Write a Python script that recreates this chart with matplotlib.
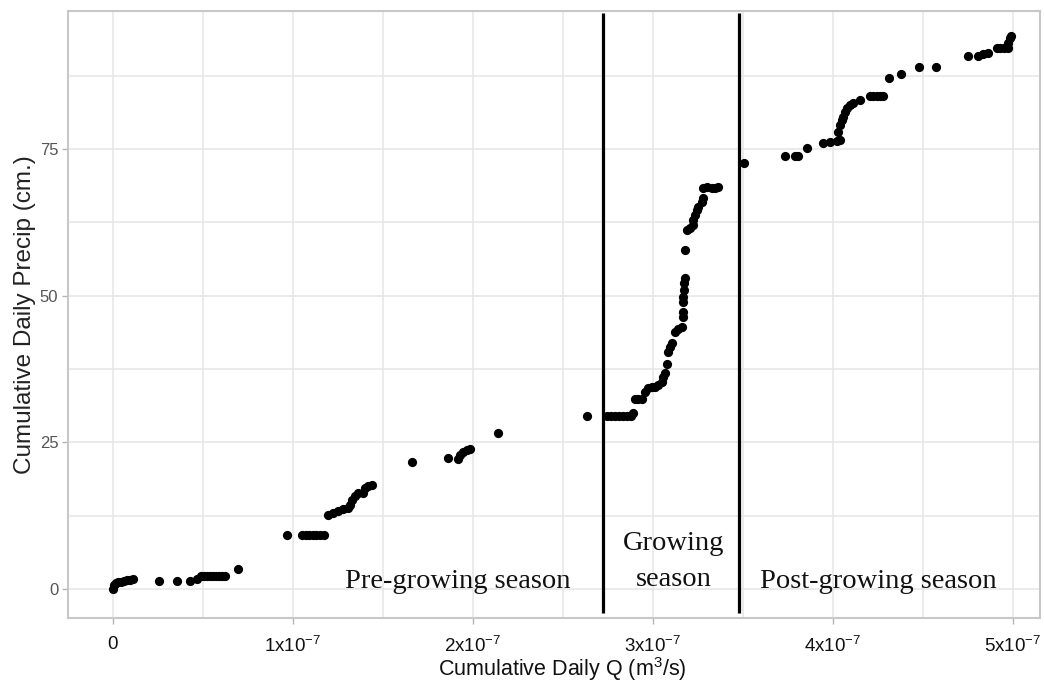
import matplotlib
matplotlib.use("Agg")
import matplotlib.pyplot as plt
from matplotlib.ticker import MultipleLocator

# cumulative daily Q, in units of 1e-7 m3/s
q_e7 = [
    0.0, 0.006, 0.017, 0.028, 0.044, 0.061, 0.078, 0.094, 0.111,
    0.256, 0.356, 0.428, 0.467,
    0.489, 0.506, 0.522, 0.539, 0.556, 0.572, 0.589, 0.606, 0.622,
    0.694, 0.967,
    1.05, 1.07, 1.09, 1.11, 1.13, 1.15, 1.17,
    1.194, 1.222, 1.25, 1.278, 1.306, 1.317, 1.328, 1.344, 1.361, 1.389,
    1.40, 1.417, 1.439,
    1.661, 1.861, 1.917, 1.928, 1.944, 1.967, 1.983, 2.139, 2.633,
    2.744, 2.767, 2.789, 2.811, 2.833, 2.856, 2.878, 2.889,
    2.90, 2.917, 2.939, 2.956, 2.972, 2.994, 3.011, 3.028, 3.05,
    3.056, 3.067, 3.078, 3.083, 3.094, 3.106, 3.122, 3.139, 3.161,
    3.167, 3.167, 3.167, 3.167, 3.172, 3.172, 3.178, 3.178,
    3.189, 3.206, 3.222, 3.222, 3.233, 3.244, 3.25, 3.272, 3.278,
    3.278, 3.30, 3.328, 3.344, 3.361,
    3.506, 3.733, 3.789, 3.806, 3.856,
    3.944, 3.983, 4.022, 4.039,
    4.028, 4.039, 4.05, 4.056, 4.067, 4.078, 4.094, 4.111, 4.15,
    4.206, 4.222, 4.244, 4.261, 4.278,
    4.311, 4.378, 4.478, 4.572,
    4.75, 4.806, 4.833, 4.861,
    4.911, 4.928, 4.95, 4.972, 4.972, 4.983, 4.989,
]

# cumulative daily precipitation (cm)
precip = [
    0.0, 0.7, 1.0, 1.2, 1.2, 1.4, 1.5, 1.5, 1.7,
    1.4, 1.4, 1.4, 1.7,
    2.3, 2.3, 2.3, 2.3, 2.3, 2.3, 2.3, 2.3, 2.3,
    3.4, 9.2,
    9.2, 9.2, 9.2, 9.2, 9.2, 9.2, 9.2,
    12.6, 12.9, 13.3, 13.6, 13.8, 14.3, 15.2, 15.9, 16.4, 16.4,
    17.2, 17.6, 17.7,
    21.7, 22.3, 22.2, 22.8, 23.3, 23.7, 23.9, 26.6, 29.5,
    29.5, 29.5, 29.5, 29.5, 29.5, 29.5, 29.5, 30.0,
    32.4, 32.4, 32.4, 33.6, 34.3, 34.5, 34.5, 34.8, 35.3,
    36.1, 36.8, 38.3, 40.4, 41.2, 41.9, 43.8, 44.3, 44.7,
    46.4, 47.2, 48.9, 49.8, 51.0, 52.2, 53.0, 57.8,
    61.2, 61.5, 62.0, 62.9, 63.7, 64.6, 65.1, 66.0, 66.6,
    68.3, 68.5, 68.4, 68.4, 68.5,
    72.6, 73.8, 73.8, 73.8, 75.2,
    76.0, 76.2, 76.4, 76.5,
    77.9, 79.1, 79.9, 80.4, 81.3, 82.0, 82.5, 82.8, 83.3,
    84.0, 84.0, 84.0, 84.0, 84.0,
    87.1, 87.8, 89.0, 89.0,
    90.9, 90.9, 91.2, 91.4,
    92.2, 92.2, 92.2, 92.2, 93.1, 93.9, 94.3,
]

season_breaks_e7 = [2.72, 3.48]
x_tick_vals = [0, 1, 2, 3, 4, 5]
x_tick_labels = ["0", "1x10$^{-7}$", "2x10$^{-7}$", "3x10$^{-7}$",
                 "4x10$^{-7}$", "5x10$^{-7}$"]
y_tick_vals = [0, 25, 50, 75]

plt.rcParams["mathtext.fontset"] = "custom"
plt.rcParams["mathtext.rm"] = "Liberation Sans"
plt.rcParams["mathtext.default"] = "regular"

W, H = 1044, 682
fig = plt.figure(figsize=(W / 100, H / 100), dpi=100)
ax = fig.add_axes([68 / W, 1 - 618 / H, (1040 - 68) / W, (618 - 11) / H])

q = [v * 1e-7 for v in q_e7]
ax.scatter(q, precip, s=44, color="black", linewidths=0, zorder=3)

for b in season_breaks_e7:
    ax.vlines(b * 1e-7, -4.1, 98.2, color="black", linewidth=2.3, zorder=4)

ax.set_xlim(-0.25e-7, 5.15e-7)
ax.set_ylim(-4.94, 98.5)

ax.set_xticks([v * 1e-7 for v in x_tick_vals])
ax.set_xticklabels(x_tick_labels, family="Liberation Sans",
                   fontsize=13.5, color="#111111")
ax.xaxis.set_minor_locator(MultipleLocator(0.5e-7))
ax.set_yticks(y_tick_vals)
ax.set_yticklabels([str(v) for v in y_tick_vals], family="Liberation Sans",
                   fontsize=12, color="#555555")
ax.yaxis.set_minor_locator(MultipleLocator(12.5))

ax.grid(which="both", color="#E6E6E6", linewidth=1.1, zorder=0)
ax.set_axisbelow(True)
ax.tick_params(which="major", length=4, width=1, color="#B3B3B3")
ax.tick_params(which="minor", length=0)
ax.tick_params(axis="x", pad=9)
ax.tick_params(axis="y", pad=3)
for sp in ax.spines.values():
    sp.set_color("#C8C8C8")
    sp.set_linewidth(1.5)

ax.set_ylabel("Cumulative Daily Precip (cm.)", family="Liberation Sans",
              fontsize=17.5, color="#222222")
ax.yaxis.set_label_coords(-0.033, 0.5)
fig.text(562 / W, 6 / H, "Cumulative Daily Q (m$^{3}$/s)", ha="center", va="baseline",
         family="Liberation Sans", fontsize=15.5, color="#111111")

serif = dict(family="Liberation Serif", fontsize=20.5, color="#111111",
             ha="center", va="baseline", zorder=5)
ax.text(1.914e-7, 0.2, "Pre-growing season", **serif)
ax.text(3.117e-7, 6.6, "Growing", **serif)
ax.text(3.117e-7, 0.5, "season", **serif)
ax.text(4.253e-7, 0.2, "Post-growing season", **serif)

fig.savefig("out.png", dpi=100)
